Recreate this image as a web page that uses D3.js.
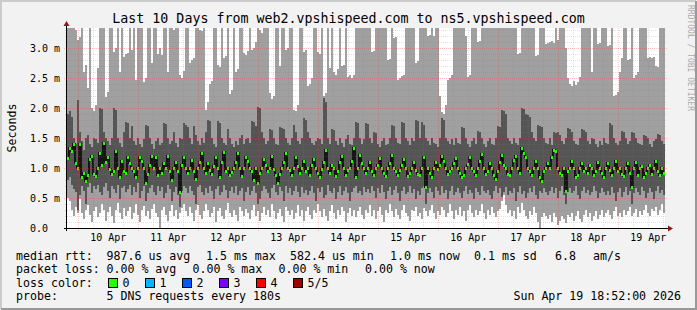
<!DOCTYPE html>
<html>
<head>
<meta charset="utf-8">
<script src="https://cdn.jsdelivr.net/npm/d3@7"></script>
<style>
  body { margin: 0; background: #f2f2f2; }
  svg text { font-family: "DejaVu Sans Mono", monospace; fill: #000; }
</style>
</head>
<body>
<svg id="chart" width="697" height="310"></svg>
<script>
// RTT values in units of 10 us (100 = 1.0 ms), one value per 48 minutes.
// 400 means the ping went off the top of the graph.
const rttMax = [
  400,400,400,400,330,313,318,400,260,272,233,400,200,195,205,267,400,400,400,218,226,400,400,293,300,400,260,400,285,290,
  292,400,297,400,247,400,400,400,243,250,400,400,275,400,400,290,300,288,400,400,260,400,400,330,400,400,255,250,262,400,
  400,275,280,283,400,400,330,328,400,197,210,240,245,400,400,272,268,400,283,286,400,223,230,400,260,265,400,400,292,288,
  295,400,297,300,310,400,330,325,400,400,400,225,215,220,400,400,270,400,400,297,300,400,400,197,195,205,400,400,293,296,
  237,240,250,400,400,293,290,400,220,225,400,267,400,260,255,265,400,270,272,400,252,255,250,255,400,400,400,400,400,400,
  400,400,293,295,400,400,400,400,400,400,280,282,400,317,318,247,250,253,255,400,400,400,400,400,275,278,400,400,400,400,
  320,322,400,320,400,400,220,193,190,205,247,250,255,400,400,400,400,400,400,320,252,255,400,400,400,310,312,400,400,400,
  400,400,400,400,400,400,400,400,400,400,400,400,400,400,400,290,292,400,400,400,400,400,400,400,287,289,400,400,400,307,
  308,310,312,308,400,313,400,400,400,300,250,240,237,245,238,243,252,400,400,400,400,400,260,400,400,307,309,400,400,400,
  303,305,400,220,222,227,260,283,400,400,280,282,400,250,255,260,400,400,400,400,283,285,283,285,270,268,400,400,400
];
const rttHigh = [
  190,195,185,150,140,213,160,145,130,150,155,140,135,150,148,142,200,198,160,150,145,138,150,200,196,150,142,135,160,177,
  175,150,170,145,138,150,140,135,148,172,170,150,140,132,145,150,138,142,175,173,150,140,145,160,142,135,150,148,175,172,
  168,150,140,170,155,145,138,150,142,160,180,178,150,140,135,178,175,150,142,138,165,150,140,135,145,138,150,155,140,148,
  150,142,178,176,170,202,200,160,150,140,145,165,163,150,140,138,168,166,165,150,142,138,150,172,160,145,140,150,183,180,
  160,150,142,138,145,150,148,140,217,210,150,140,165,163,145,138,150,142,135,148,155,140,138,150,177,175,150,140,148,175,
  173,150,142,160,158,140,135,145,150,138,140,150,172,170,150,142,140,177,175,150,145,138,150,145,180,178,150,177,172,150,
  145,138,150,142,140,135,150,183,180,150,145,140,148,138,150,142,140,168,166,150,140,135,145,150,140,162,160,150,140,135,
  145,150,140,138,150,170,168,197,195,190,150,145,140,150,142,138,150,200,198,190,188,185,160,150,145,172,170,168,150,142,
  140,150,138,160,158,160,155,145,140,150,167,165,160,145,140,138,150,165,163,160,145,140,150,148,140,135,145,138,150,142,
  140,175,172,150,142,138,145,162,160,150,140,145,160,158,150,142,140,138,155,153,150,140,135,145,148,157,155,145,140
];
const rttMedian = [
  117,133,128,140,108,100,140,85,92,78,88,115,120,90,86,100,125,105,142,110,118,98,90,95,128,100,85,112,95,92,
  118,108,100,95,85,100,118,112,100,75,90,105,120,100,118,88,100,92,108,100,120,95,80,100,110,95,60,105,118,100,
  92,100,113,95,82,100,110,125,100,92,108,97,90,103,118,100,85,110,127,95,100,88,93,100,110,125,100,87,100,118,
  112,100,95,80,100,75,92,100,115,105,95,100,120,98,88,75,90,100,110,125,100,97,88,100,118,103,92,100,112,95,
  100,88,105,115,100,92,85,98,110,130,100,92,105,100,87,95,110,120,100,88,96,100,112,133,85,100,122,108,100,92,
  100,110,95,88,100,105,117,100,92,86,100,108,122,100,95,88,97,105,115,100,86,92,100,110,97,90,88,100,118,68,
  100,92,85,100,110,98,105,120,112,100,90,95,100,108,116,100,92,85,88,100,106,118,100,95,88,100,112,123,100,90,
  95,108,100,88,82,95,110,122,105,100,90,88,100,113,120,100,92,133,125,118,100,95,88,100,112,100,85,78,95,100,
  108,100,118,130,128,100,92,88,100,62,95,100,112,100,85,88,100,108,95,100,92,105,100,88,95,110,100,92,85,100,
  108,97,88,100,112,95,100,90,86,100,108,92,68,100,110,88,100,103,85,92,100,105,90,100,112,95,88,100,92
];
const rttLow = [
  80,85,72,65,60,30,55,70,62,40,68,75,58,70,65,72,60,55,68,75,62,50,70,65,58,72,48,66,70,60,
  65,72,55,68,60,75,50,62,70,45,58,66,72,60,55,70,62,68,50,58,72,65,45,60,68,55,35,62,70,66,
  58,70,62,55,40,68,72,60,55,66,58,70,62,48,65,70,55,60,72,64,50,62,68,58,70,55,62,66,45,60,
  68,55,62,70,58,40,48,62,70,65,58,50,66,72,60,55,68,62,45,70,58,66,55,62,70,60,52,68,58,64,
  55,62,70,58,45,66,60,68,50,55,72,62,58,66,48,60,70,55,62,68,58,45,60,66,70,58,62,55,68,60,
  65,58,70,62,50,66,58,72,60,48,62,68,55,64,70,58,45,62,68,56,60,70,58,65,48,62,55,66,70,40,
  58,66,60,50,68,62,55,70,58,64,48,62,70,55,60,66,58,50,62,70,56,64,58,48,66,60,55,70,62,58,
  64,55,48,62,70,58,66,52,60,68,55,62,58,66,45,60,70,56,62,50,58,66,60,70,55,48,62,58,66,60,
  55,62,68,58,66,50,62,70,55,40,60,66,58,62,70,55,48,62,68,58,64,55,60,70,62,50,58,66,60,55,
  62,55,68,58,45,60,66,52,60,68,55,62,40,58,66,60,55,68,62,50,58,66,60,48,62,70,58,64,55
];
const rttMin = [
  50,45,30,20,35,25,48,25,15,30,38,22,10,28,35,18,25,40,30,12,26,35,20,8,30,42,25,15,33,20,
  28,35,15,25,40,22,10,30,36,20,28,15,32,40,25,18,0,30,35,22,12,28,38,20,30,15,25,33,40,28,
  20,35,25,12,30,38,22,15,28,40,30,18,25,35,10,28,33,20,15,30,42,25,18,30,22,12,35,28,20,32,
  25,15,30,38,20,28,12,25,35,22,30,18,40,28,15,25,32,20,10,35,28,22,30,15,25,38,20,30,12,28,
  35,22,15,30,25,40,28,18,32,20,12,28,38,25,15,30,22,35,28,10,25,33,20,30,18,28,35,22,15,30,
  25,38,20,30,15,28,35,22,10,30,25,40,28,18,32,22,15,30,38,25,20,12,30,28,35,20,25,15,33,28,
  20,30,38,25,15,28,22,35,30,18,25,40,28,15,30,22,35,20,28,12,30,38,25,18,30,22,28,40,25,15,
  30,22,35,25,18,28,32,45,55,38,25,30,20,28,15,35,25,42,30,20,15,28,22,35,25,10,0,18,25,20,
  15,22,10,25,18,5,12,20,15,8,22,18,25,12,20,28,15,10,22,30,18,25,12,20,28,15,22,30,18,25,
  30,22,15,28,35,20,25,18,30,22,28,35,20,25,32,18,28,22,30,38,25,20,32,28,35,22,30,40,25
];
const yTicks = [0, 0.5, 1.0, 1.5, 2.0, 2.5, 3.0];
const yTickLabels = ["0.0", "0.5 m", "1.0 m", "1.5 m", "2.0 m", "2.5 m", "3.0 m"];
const lossColors = ["#26ff00", "#00b8ff", "#0059ff", "#7e00ff", "#ff0000", "#a10000"];
const lossLabels = ["0", "1", "2", "3", "4", "5/5"];

const svg = d3.select('#chart');
const W = 697, H = 310;
const plot = { left: 67, right: 665, top: 28, bottom: 228 };
const stepSec = 2880;
const start = new Date(Date.UTC(2026, 3, 9, 19, 30));
const end = new Date(start.getTime() + rttMax.length * stepSec * 1000);

const x = d3.scaleUtc().domain([start, end]).range([plot.left, plot.right]);
const y = d3.scaleLinear().domain([0, 200 / 60]).range([plot.bottom, plot.top]);
const yTop = y.domain()[1];

// frame
svg.append('rect').attr('width', W).attr('height', H).attr('fill', '#f2f2f2');
svg.append('path').attr('d', `M1,${H - 1}V1H${W - 1}`).attr('fill', 'none').attr('stroke', '#cbcbcb').attr('stroke-width', 2);
svg.append('path').attr('d', `M1,${H - 1}H${W - 1}V1`).attr('fill', 'none').attr('stroke', '#999').attr('stroke-width', 2);

// canvas
svg.append('rect')
    .attr('x', plot.left).attr('y', plot.top)
    .attr('width', plot.right - plot.left).attr('height', plot.bottom - plot.top)
    .attr('fill', '#fff');

const data = rttMax.map((mx, i) => ({
    t0: new Date(start.getTime() + i * stepSec * 1000),
    t1: new Date(start.getTime() + (i + 1) * stepSec * 1000),
    max: Math.min(mx / 100, yTop), hi: rttHigh[i] / 100, med: rttMedian[i] / 100,
    lo: rttLow[i] / 100, min: rttMin[i] / 100
}));

const g = svg.append('g').attr('shape-rendering', 'crispEdges');

// outer smoke (min..max)
g.selectAll('.smoke1').data(data).enter().append('rect')
    .attr('x', d => x(d.t0)).attr('width', d => x(d.t1) - x(d.t0))
    .attr('y', d => y(d.max)).attr('height', d => y(d.min) - y(d.max))
    .attr('fill', '#a0a0a0');

// inner smoke
g.selectAll('.smoke2').data(data).enter().append('rect')
    .attr('x', d => x(d.t0)).attr('width', d => x(d.t1) - x(d.t0))
    .attr('y', d => y(d.hi)).attr('height', d => y(d.lo) - y(d.hi))
    .attr('fill', '#555555');

// median: dark step line, green marks on top
const stepPts = data.map(d => [x(d.t0), y(d.med)]);
stepPts.push([x(end), y(data[data.length - 1].med)]);
g.append('path')
    .attr('d', d3.line().curve(d3.curveStepAfter)(stepPts))
    .attr('fill', 'none').attr('stroke', '#151515').attr('stroke-width', 1.6);
g.selectAll('.med').data(data).enter().append('rect')
    .attr('x', d => x(d.t0)).attr('width', d => x(d.t1) - x(d.t0))
    .attr('y', d => Math.round(y(d.med)) - 1).attr('height', 3)
    .attr('fill', lossColors[0]);

// grid (faint dotted, drawn over the data)
const grid = svg.append('g').attr('fill', 'none').attr('stroke-dasharray', '1,1');
const majorColor = 'rgba(255,40,40,0.26)';
const minorColor = 'rgba(130,130,130,0.24)';
const minorV = d3.utcHour.every(6).range(start, end);
const days = d3.utcDay.range(start, end);
minorV.forEach(t => {
    const px = Math.round(x(t)) + 0.5;
    const major = t.getUTCHours() === 0;
    grid.append('line')
        .attr('x1', px).attr('x2', px).attr('y1', plot.top).attr('y2', plot.bottom + (major ? 3 : 2))
        .attr('stroke', major ? majorColor : minorColor);
});
d3.range(1, 34).forEach(k => {
    const v = k / 10;
    const py = Math.round(y(v)) + 0.5;
    const major = k % 5 === 0;
    grid.append('line')
        .attr('x1', plot.left - (major ? 3 : 2)).attr('x2', plot.right + (major ? 3 : 2))
        .attr('y1', py).attr('y2', py)
        .attr('stroke', major ? majorColor : minorColor);
});

// axes
svg.append('line').attr('x1', plot.left - 3).attr('x2', plot.right + 3)
    .attr('y1', plot.bottom + 0.5).attr('y2', plot.bottom + 0.5).attr('stroke', '#000');
svg.append('line').attr('x1', plot.left - 0.5).attr('x2', plot.left - 0.5)
    .attr('y1', plot.bottom + 3).attr('y2', plot.top - 3).attr('stroke', '#000');
svg.append('path').attr('d', `M${plot.left - 0.5},21L${plot.left + 2.5},26H${plot.left - 3.5}Z`).attr('fill', '#8b1a1a');
svg.append('path').attr('d', `M${plot.right + 8},${plot.bottom + 0.5}L${plot.right + 3},${plot.bottom + 3.5}V${plot.bottom - 2.5}Z`).attr('fill', '#8b1a1a');

// tick labels
svg.selectAll('.ylab').data(yTicks).enter().append('text')
    .attr('x', 30).attr('y', d => y(d)).attr('dy', '0.36em')
    .style('font-size', '10px').text((d, i) => yTickLabels[i]);
svg.selectAll('.xlab').data(days).enter().append('text')
    .attr('x', d => x(d3.utcHour.offset(d, 12))).attr('y', 240.5)
    .attr('text-anchor', 'middle').style('font-size', '10px')
    .text(d3.utcFormat('%d %b'));

// title and axis title
svg.append('text').attr('x', 348.5).attr('y', 23).attr('text-anchor', 'middle')
    .style('font-size', '13.3px').text('Last 10 Days from web2.vpshispeed.com to ns5.vpshispeed.com');
svg.append('text').attr('transform', 'translate(15.5,128) rotate(-90)').attr('text-anchor', 'middle')
    .style('font-size', '11.6px').text('Seconds');
svg.append('text').attr('transform', 'translate(688,5) rotate(90)')
    .style('font-size', '8px').style('fill', '#aaa').text('RRDTOOL / TOBI OETIKER');

// legend
const leg = svg.append('g').style('font-size', '11.6px');
const rows = [
    [259.5, [[16, 'median rtt:'], [106.5, '987.6 us avg'], [206, '1.5 ms max'], [290, '582.4 us min'], [390, '1.0 ms now'], [474, '0.1 ms sd'], [555, '6.8'], [593, 'am/s']]],
    [273, [[16, 'packet loss:'], [106.5, '0.00 % avg'], [192.5, '0.00 % max'], [278.5, '0.00 % min'], [365, '0.00 % now']]],
    [286.5, [[16, 'loss color:']]],
    [300, [[16, 'probe:'], [106.5, '5 DNS requests every 180s']]]
];
rows.forEach(([yy, items]) => {
    items.forEach(([xx, s]) => leg.append('text').attr('x', xx).attr('y', yy).text(s));
});
lossColors.forEach((c, i) => {
    const bx = 108.5 + i * 37;
    leg.append('rect').attr('x', bx).attr('y', 278.5).attr('width', 9).attr('height', 9)
        .attr('fill', c).attr('stroke', '#000');
    leg.append('text').attr('x', bx + 14).attr('y', 286.5).text(lossLabels[i]);
});
leg.append('text').attr('x', 681).attr('y', 300).attr('text-anchor', 'end').text('Sun Apr 19 18:52:00 2026');
</script>
</body>
</html>
